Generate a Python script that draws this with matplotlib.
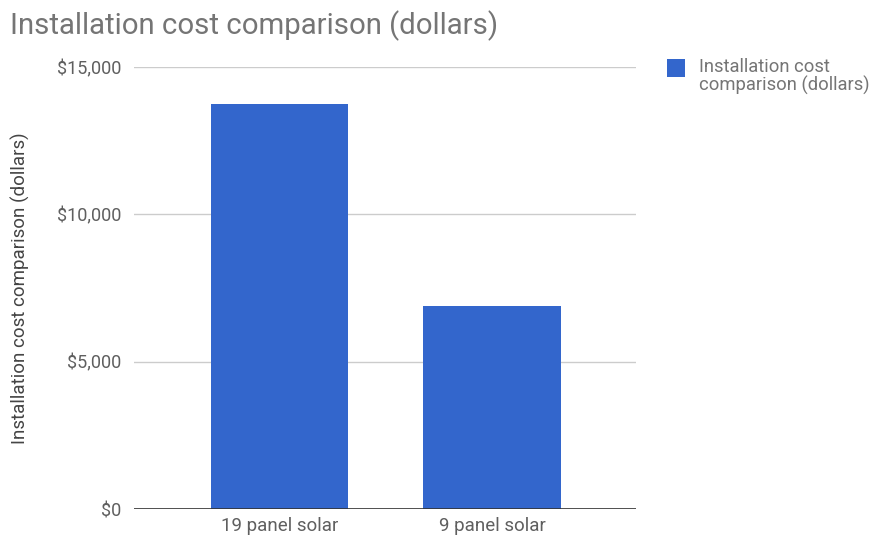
import matplotlib
matplotlib.use("Agg")
import matplotlib.pyplot as plt
from matplotlib.patches import Rectangle
from matplotlib.ticker import FuncFormatter

categories = ["19 panel solar", "9 panel solar"]
values = [13750, 6880]
series_name = "Installation cost comparison (dollars)"
legend_label = "Installation cost\ncomparison (dollars)"
y_ticks = [0, 5000, 10000, 15000]

plt.rcParams['font.family'] = ['Roboto', 'DejaVu Sans']

W, H = 878, 542
fig = plt.figure(figsize=(W / 100, H / 100), dpi=100)
ax = fig.add_axes([134/W, 33/H, 502/W, 442/H])

bar_color = "#3366CC"
x = list(range(len(categories)))
ax.bar(x, values, width=0.648, color=bar_color, zorder=3)
ax.set_xlim(-0.685, 1.678)
ax.set_ylim(0, 15000)
ax.set_yticks(y_ticks)
ax.yaxis.set_major_formatter(FuncFormatter(lambda v, p: "${:,.0f}".format(v)))
ax.set_xticks(x)
ax.set_xticklabels(categories)

ax.grid(axis='y', color='#cccccc', linewidth=1, zorder=0)
ax.axhline(0, color='#333333', linewidth=1.2, zorder=4)
for s in ax.spines.values():
    s.set_visible(False)
ax.tick_params(axis='y', length=0, pad=9, labelsize=13, labelcolor='#5f5f5f')
ax.tick_params(axis='x', length=0, pad=6, labelsize=13.5, labelcolor='#5f5f5f')

ax.set_ylabel(series_name, fontsize=13.5, color='#444444')
ax.yaxis.set_label_coords(-104/502, 0.5)

fig.text(10/W, 1 - 34/H, series_name, fontsize=21.2, color='#757575',
         ha='left', va='baseline')

# legend (manual, first line aligned with swatch)
fig.add_artist(Rectangle((667/W, 1 - 77/H), 18/W, 18/H, transform=fig.transFigure,
                         facecolor=bar_color, edgecolor='none'))
fig.text(699/W, 1 - 58/H, legend_label, fontsize=13.2, color='#757575',
         ha='left', va='top', linespacing=1.0)

fig.savefig("out.png", dpi=100)
